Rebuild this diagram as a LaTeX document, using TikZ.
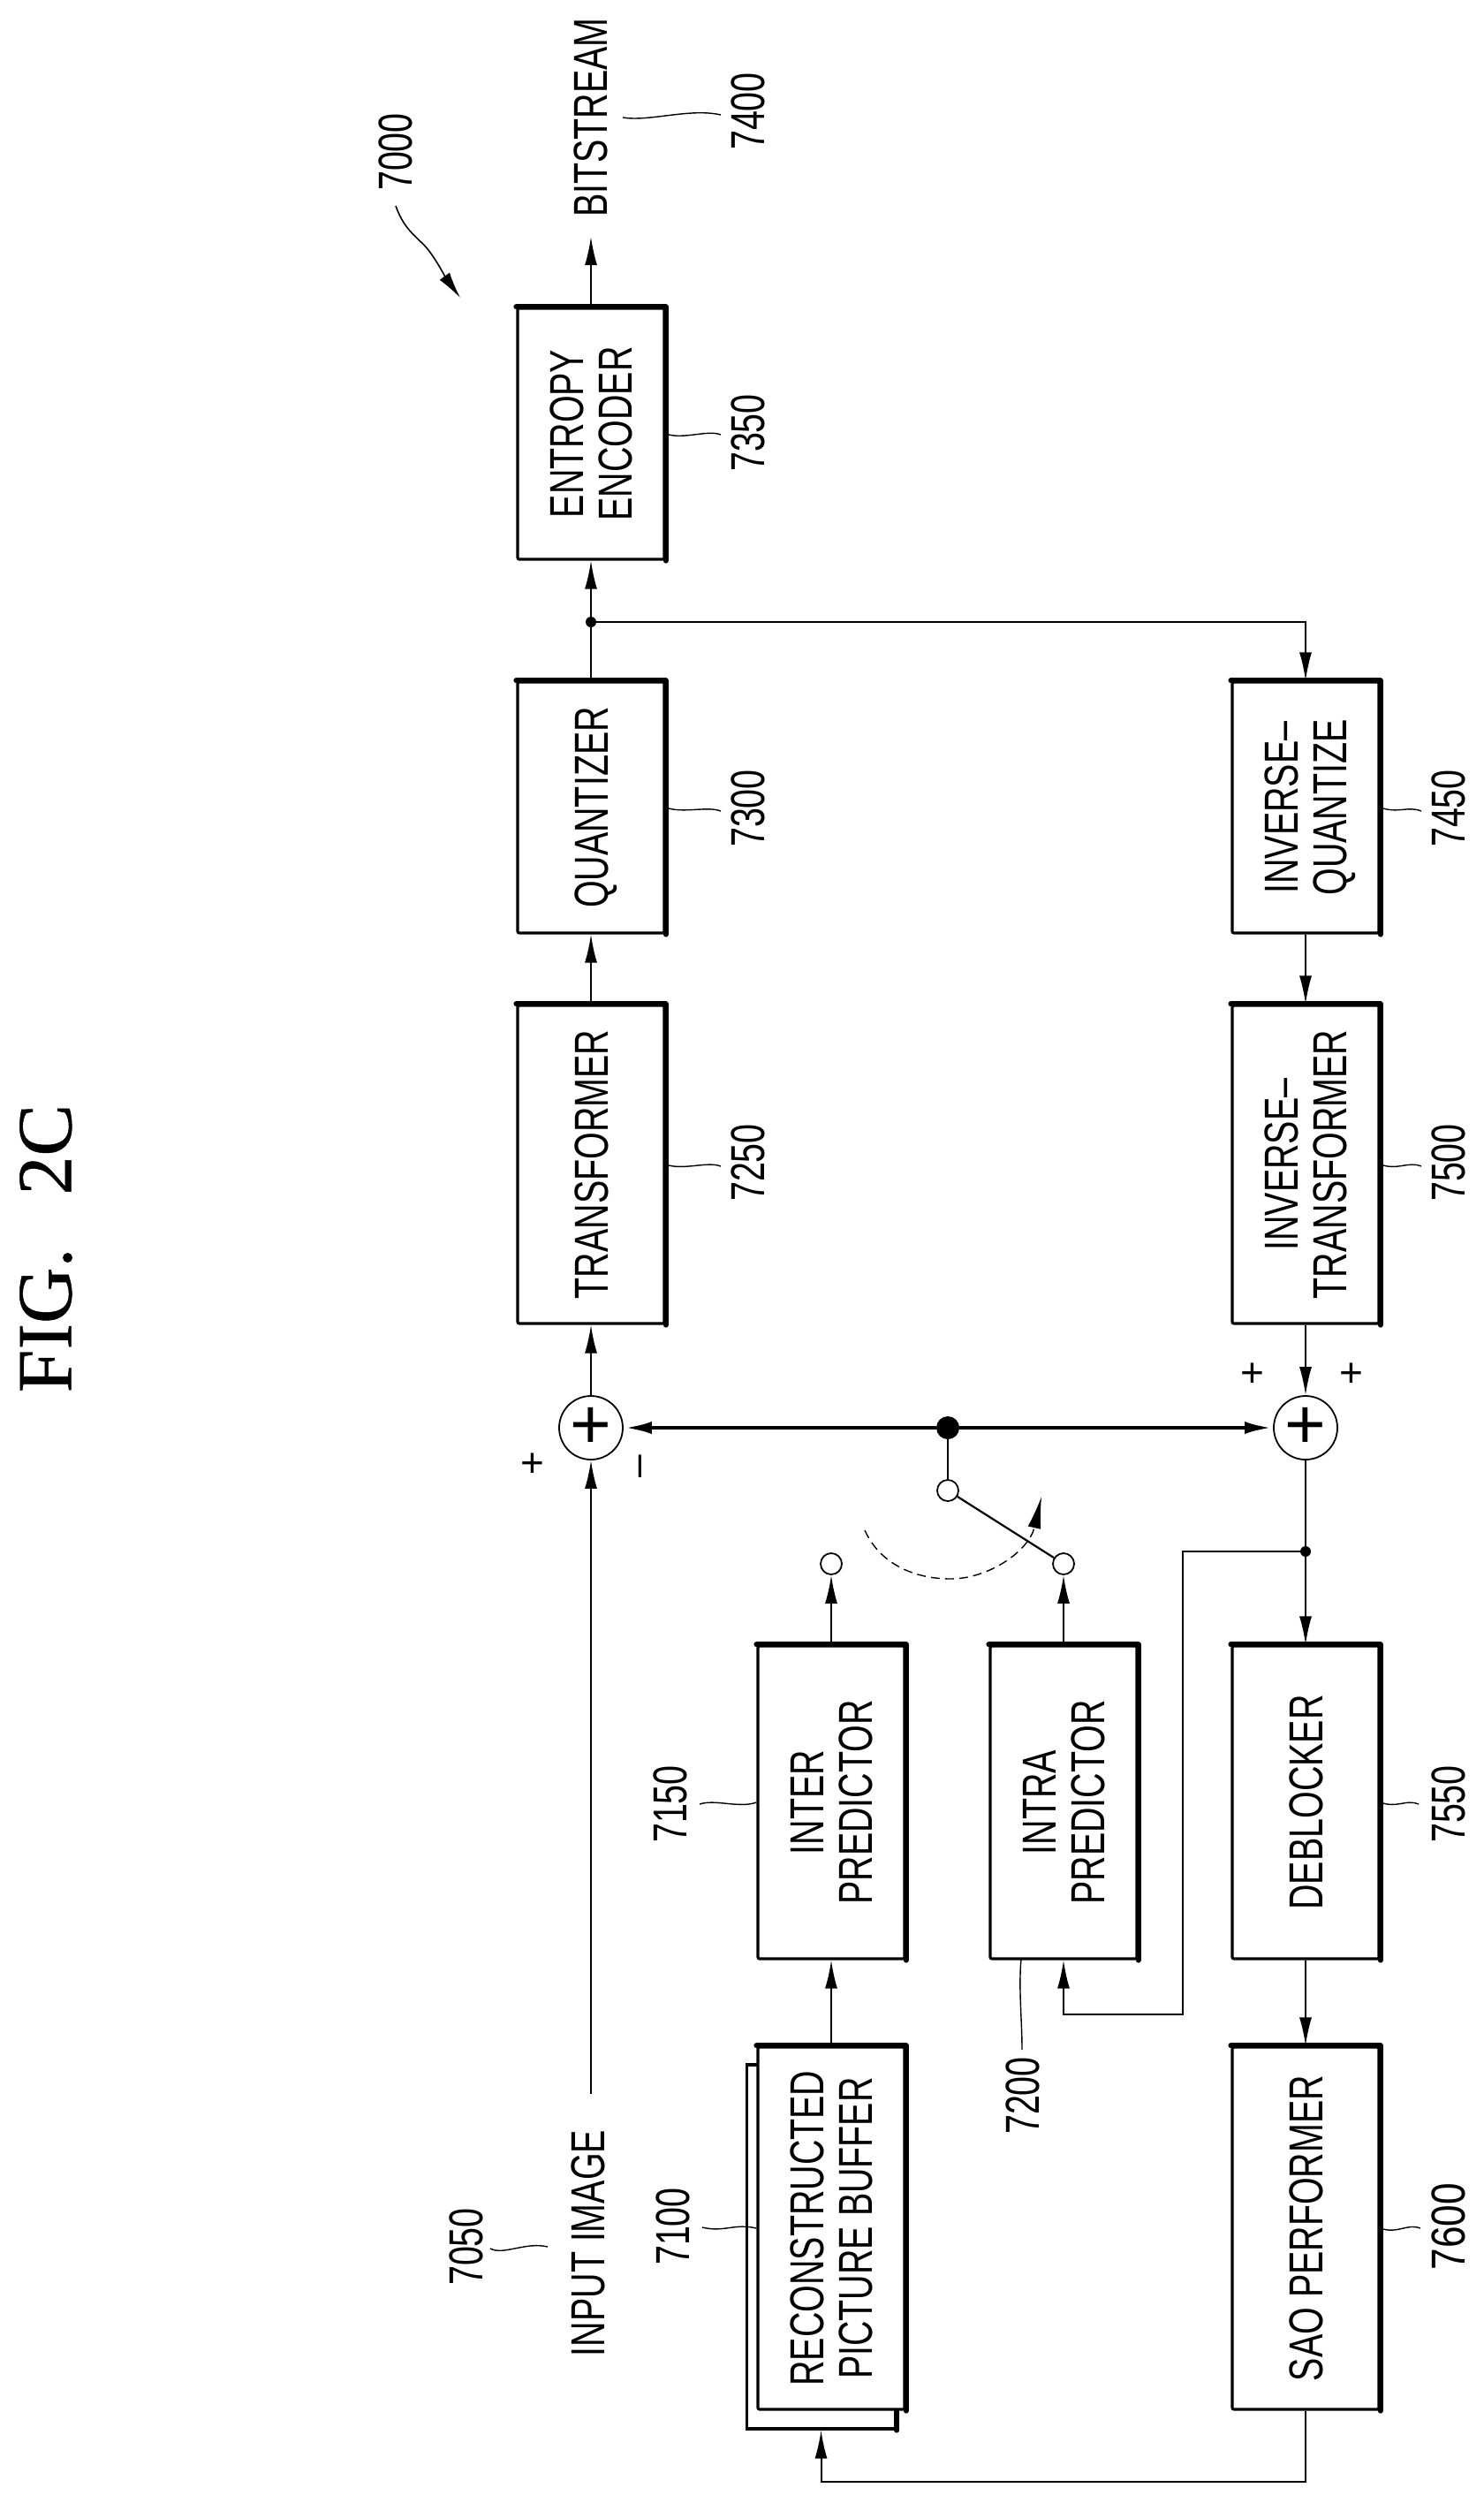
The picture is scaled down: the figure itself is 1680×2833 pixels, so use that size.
\documentclass[tikz,border=0pt]{standalone}
\usepackage{fontspec}
\setmainfont[FakeStretch=0.73]{Liberation Sans}
\newfontfamily\plainfont{Liberation Sans}
\newfontfamily\titlefont[FakeBold=0.5]{Liberation Serif}
\usetikzlibrary{arrows.meta}
\newcommand{\rt}[1]{\hspace*{8.4pt}\rotatebox{90}{\begin{tabular}{@{}c@{}}#1\end{tabular}}}
\tikzset{
  txt/.style={inner sep=0pt,font=\fontsize{27}{27.5}\selectfont},
  blockbox/.style={draw=black,fill=white,line width=1.6pt,rounded corners=1pt,inner sep=0pt,
    minimum width=83pt,font=\fontsize{27}{27.5}\selectfont},
  heavy/.style={line width=3pt,line cap=round,line join=round},
  wire/.style={line width=1pt},
  conn/.style={line width=1pt,-{Latex[length=16pt,width=7pt]}},
  bus/.style={line width=2.4pt,-{Latex[length=16pt,width=7pt]}},
  lead/.style={line width=.7pt},
  sumnode/.style={circle,draw=black,fill=white,line width=.9pt,minimum size=36pt,inner sep=0pt,
    font=\plainfont\fontsize{40}{40}\selectfont},
  dotnode/.style={circle,fill=black,inner sep=0pt,minimum size=6pt},
  termnode/.style={circle,draw=black,fill=white,line width=.9pt,inner sep=0pt,minimum size=12pt},
  signnode/.style={inner sep=0pt,font=\plainfont\fontsize{23}{23}\selectfont},
}
\begin{document}
\begin{tikzpicture}[x=.5pt,y=-.5pt]
\useasboundingbox[fill=white] (0,0) rectangle (1680,2833);

% title
\node[inner sep=0pt,font=\titlefont\fontsize{44}{44}\selectfont] (title) at (52,1413) {\rotatebox{90}{FIG.\hspace{30pt}2C}};

% blocks
\node[blockbox,minimum height=142pt] (ent) at (669,491) {\rt{ENTROPY\\ENCODER}};
\node[blockbox,minimum height=142pt] (qnt) at (669,914) {\rt{QUANTIZER}};
\node[blockbox,minimum height=180pt] (trf) at (669,1318) {\rt{TRANSFORMER}};
\node[blockbox,minimum height=142pt] (iqn) at (1478,914) {\rt{INVERSE--\\QUANTIZE}};
\node[blockbox,minimum height=180pt] (itr) at (1478,1318) {\rt{INVERSE--\\TRANSFORMER}};
\node[blockbox,minimum height=177pt] (inter) at (941,2040) {\rt{INTER\\PREDICTOR}};
\node[blockbox,minimum height=177pt] (intra) at (1204,2040) {\rt{INTRA\\PREDICTOR}};
\node[blockbox,minimum height=177pt] (deb) at (1478,2040) {\rt{DEBLOCKER}};
\node[blockbox,minimum height=205pt] (sao) at (1478,2522) {\rt{SAO PERFORMER}};
\node[draw=black,fill=white,line width=1.6pt,inner sep=0pt,minimum width=84pt,minimum height=206pt] (stack) at (929.5,2543) {};
\draw[heavy] (stack.north east) -- (stack.south east);
\node[blockbox,minimum height=205pt] (rpb) at (941,2522) {\rt{RECONSTRUCTED\\PICTURE BUFFER}};
\foreach \n in {ent,qnt,trf,iqn,itr,inter,intra,deb,sao,rpb}
  \draw[heavy] (\n.north west) -- (\n.north east) -- (\n.south east);

% summing points, junctions, switch terminals
\node[sumnode] (s1) at (669,1616) {+};
\node[sumnode] (s2) at (1478,1616) {+};
\node[dotnode] (j1) at (669,704) {};
\node[dotnode] (j2) at (1478,1756) {};
\node[dotnode,minimum size=13pt] (sw) at (1073,1616) {};
\node[termnode] (t1) at (941,1770) {};
\node[termnode] (t2) at (1204,1770) {};
\node[termnode] (t3) at (1073,1687) {};

% free ends
\coordinate (bitend) at (669,268);
\coordinate (inend) at (669,2370);
\coordinate (fbA) at (1339,1756);
\coordinate (fbB) at (1339,2280);
\coordinate (fbC) at (1204,2280);
\coordinate (saoA) at (1478,2809);
\coordinate (saoB) at (929.5,2809);

% connectors
\draw[conn] (ent.north) -- (bitend);
\draw[wire] (qnt.north) -- (j1);
\draw[conn] (j1) -- (ent.south);
\draw[conn] (j1) -| (iqn.north);
\draw[conn] (trf.north) -- (qnt.south);
\draw[conn] (s1.north) -- (trf.south);
\draw[conn] (inend) -- (s1.south);
\draw[conn] (iqn.south) -- (itr.north);
\draw[conn] (itr.south) -- (s2.north);
\draw[wire] (s2.south) -- (j2);
\draw[conn] (j2) -- (deb.north);
\draw[conn] (j2) -- (fbA) -- (fbB) -- (fbC) -- (intra.south);
\draw[conn] (deb.south) -- (sao.north);
\draw[conn] (sao.south) -- (saoA) -- (saoB) -- (stack.south);
\draw[conn] (rpb.north) -- (inter.south);
\draw[conn] (inter.north) -- (t1.south);
\draw[conn] (intra.north) -- (t2.south);
\draw[bus] (sw) -- (s1.east);
\draw[bus] (sw) -- (s2.west);
\draw[wire] (sw) -- (t3);
\draw[line width=1.1pt] (t3) -- (t2);
\draw[line width=.7pt,dash pattern=on 5pt off 3pt,-{Latex[length=18pt,width=7.5pt]}]
  (979,1732) .. controls (996,1770) and (1035,1787) .. (1076,1787)
  .. controls (1120,1787) and (1165,1755) .. (1179,1694);

% signs
\node[signnode] (p1) at (603,1658) {+};
\node[signnode] (m1) at (730,1660) {\rotatebox{90}{–}};
\node[signnode] (p2) at (1418,1556) {+};
\node[signnode] (p3) at (1530,1556) {+};

% outer labels
\node[txt] (bit) at (668,133) {\rt{BITSTREAM}};
\node[txt] (inp) at (665,2539) {\rt{INPUT IMAGE}};
\node[txt] (n7000) at (447,172) {\rt{7000}};
\node[txt] (n7400) at (846,126) {\rt{7400}};
\node[txt] (n7350) at (846,490) {\rt{7350}};
\node[txt] (n7300) at (846,915) {\rt{7300}};
\node[txt] (n7250) at (846,1316) {\rt{7250}};
\node[txt] (n7450) at (1639,915) {\rt{7450}};
\node[txt] (n7500) at (1639,1316) {\rt{7500}};
\node[txt] (n7150) at (758,2042) {\rt{7150}};
\node[txt] (n7550) at (1639,2042) {\rt{7550}};
\node[txt] (n7200) at (1157,2372) {\rt{7200}};
\node[txt] (n7600) at (1639,2520) {\rt{\scalebox{1.12}[1]{7600}}};
\node[txt] (n7100) at (761,2520) {\rt{7100}};
\node[txt] (n7050) at (527,2543) {\rt{7050}};

% leader lines
\coordinate (a7400) at (705,133);
\coordinate (b7400) at (816,130);
\coordinate (b7350) at (816,492);
\coordinate (b7300) at (816,918);
\coordinate (b7250) at (816,1320);
\coordinate (b7450) at (1609,918);
\coordinate (b7500) at (1609,1320);
\coordinate (b7150) at (792,2042);
\coordinate (b7550) at (1606,2042);
\coordinate (b7600) at (1608,2522);
\coordinate (b7100) at (795,2521);
\coordinate (a7200) at (1156,2217);
\coordinate (b7200) at (1157,2320);
\coordinate (a7050) at (620,2543);
\coordinate (b7050) at (555,2545);
\draw[lead] (a7400) .. controls +(30,5) and +(-35,-8) .. (b7400);
\foreach \n/\m in {ent/7350,qnt/7300,trf/7250,iqn/7450,itr/7500,deb/7550,sao/7600}
  \draw[lead] (\n.east) .. controls +(20,7) and +(-15,-6) .. (b\m);
\draw[lead] (inter.west) .. controls +(-20,7) and +(18,-6) .. (b7150);
\draw[lead] (rpb.west) .. controls +(-25,-6) and +(25,6) .. (b7100);
\draw[lead] (a7200) .. controls +(-3,35) and +(0,-35) .. (b7200);
\draw[lead] (a7050) .. controls +(-25,-6) and +(15,8) .. (b7050);

% 7000 pointer
\coordinate (a7000) at (448,233);
\coordinate (b7000) at (521,337);
\draw[line width=.8pt,-{Latex[length=15pt,width=7pt]}] (a7000) .. controls (458,262) and (475,270) .. (485,283) .. controls (495,296) and (505,315) .. (b7000);
\end{tikzpicture}
\end{document}
